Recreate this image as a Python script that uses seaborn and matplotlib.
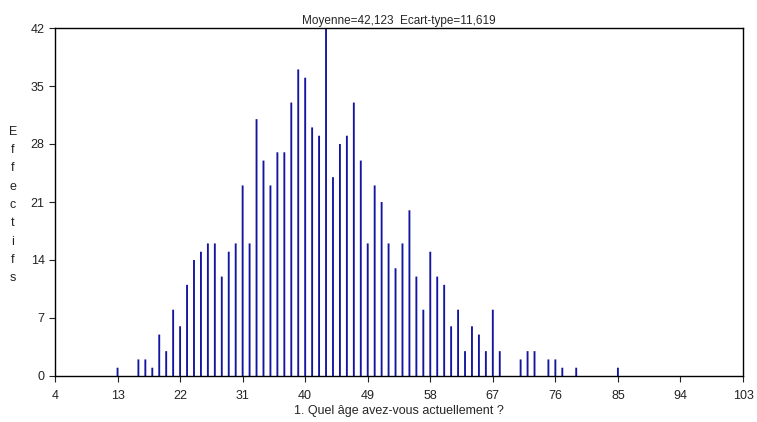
import matplotlib
matplotlib.use("Agg")
import matplotlib.pyplot as plt
import seaborn as sns
import numpy as np

# Age -> number of respondents
ages = [13, 16, 17, 18, 19, 20, 21, 22, 23, 24, 25, 26, 27, 28, 29, 30,
        31, 32, 33, 34, 35, 36, 37, 38, 39, 40, 41, 42, 43, 44, 45, 46,
        47, 48, 49, 50, 51, 52, 53, 54, 55, 56, 57, 58, 59, 60, 61, 62,
        63, 64, 65, 66, 67, 68, 71, 72, 73, 75, 76, 77, 79, 85]
counts = [1, 2, 2, 1, 5, 3, 8, 6, 11, 14, 15, 16, 16, 12, 15, 16,
          23, 16, 31, 26, 23, 27, 27, 33, 37, 36, 30, 29, 42, 24, 28, 29,
          33, 26, 16, 23, 21, 16, 13, 16, 20, 12, 8, 15, 12, 11, 6, 8,
          3, 6, 5, 3, 8, 3, 2, 3, 3, 2, 2, 1, 1, 1]
x_ticks = list(range(4, 104, 9))
y_ticks = list(range(0, 43, 7))

title = "Moyenne=42,123  Ecart-type=11,619"
x_label = "1. Quel âge avez-vous actuellement ?"
y_label = "Effectifs"

sns.set_style("ticks")
plt.rcParams["font.family"] = ["Liberation Sans", "DejaVu Sans"]

fig = plt.figure(figsize=(7.57, 4.22), dpi=100)
ax = fig.add_axes([55 / 757, 46 / 422, 688 / 757, 348 / 422])

sns.barplot(x=ages, y=counts, native_scale=True, width=0.27,
            color="#1414A0", saturation=1, linewidth=0, ax=ax)
# no pixel snapping, so all sticks come out the same width
for p in ax.patches:
    p.set_snap(False)

ax.set_xlim(4, 103)
ax.set_ylim(0, 42)
ax.set_xticks(x_ticks)
ax.set_yticks(y_ticks)
ax.tick_params(labelsize=9, colors="#222222", length=4, width=0.8)
ax.tick_params(axis="x", pad=6)
for s in ax.spines.values():
    s.set_color("black")
    s.set_linewidth(1.0)
    s.set_zorder(5)

ax.set_title(title, fontsize=8.5, pad=3)
ax.set_xlabel(x_label, fontsize=9, labelpad=2)
ax.set_ylabel("")
fig.text(13 / 757, 1 - 205 / 422, "\n".join(y_label), fontsize=9,
         ha="center", va="center", linespacing=1.7, color="#222222")

fig.savefig("out.png", dpi=100)
